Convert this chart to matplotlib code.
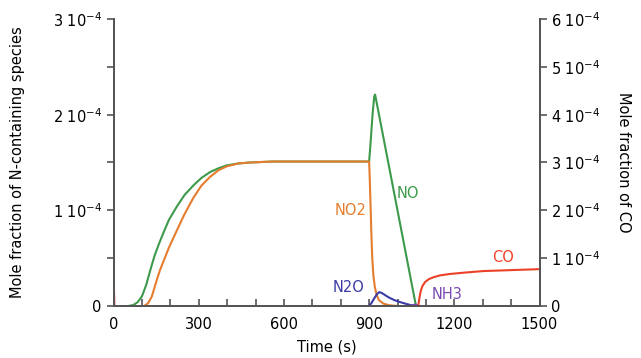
import matplotlib
matplotlib.use("Agg")
import matplotlib.pyplot as plt

# values in units of 1e-4 mole fraction
t_no = [52, 70, 85, 100, 115, 130, 145, 160, 175, 195, 223, 250, 281, 310, 340, 370, 399, 440, 481, 560,
        900, 905, 912, 918, 921, 925, 1065]
no = [0, 0.01, 0.04, 0.10, 0.22, 0.38, 0.53, 0.65, 0.76, 0.90, 1.04, 1.16, 1.26, 1.34, 1.40, 1.44, 1.47, 1.49, 1.50, 1.51,
      1.51, 1.70, 2.00, 2.19, 2.21, 2.15, 0]

t_no2 = [108, 122, 135, 150, 163, 175, 195, 223, 250, 281, 310, 340, 370, 399, 440, 481, 560,
         900, 902, 905, 908, 911, 915, 920, 927, 935, 950, 970, 1000]
no2 = [0, 0.03, 0.10, 0.25, 0.37, 0.46, 0.61, 0.79, 0.96, 1.13, 1.26, 1.35, 1.42, 1.46, 1.49, 1.50, 1.51,
       1.51, 1.35, 1.05, 0.75, 0.50, 0.32, 0.20, 0.11, 0.06, 0.025, 0.008, 0]

t_n2o = [900, 908, 918, 928, 936, 945, 958, 972, 990, 1010, 1030, 1050, 1062]
n2o = [0, 0.03, 0.08, 0.125, 0.145, 0.135, 0.11, 0.085, 0.06, 0.04, 0.022, 0.007, 0]

t_nh3 = [1040, 1055, 1065, 1075]
nh3 = [0, 0.01, 0.015, 0]

t_co_start = [0, 3]
co_start = [0.71, 0]
t_co = [1073, 1075, 1078, 1082, 1088, 1097, 1110, 1126, 1150, 1185, 1240, 1302, 1400, 1500]
co = [0, 0.08, 0.20, 0.32, 0.42, 0.50, 0.56, 0.60, 0.64, 0.67, 0.70, 0.73, 0.75, 0.77]

left_ticks = [0, 1, 2, 3]
left_labels = ["0", "1 10$^{-4}$", "2 10$^{-4}$", "3 10$^{-4}$"]
right_ticks = [0, 1, 2, 3, 4, 5, 6]
right_labels = ["0"] + ["%d 10$^{-4}$" % i for i in range(1, 7)]
x_ticks = [0, 300, 600, 900, 1200, 1500]

green = "#3d9a4b"
orange = "#e57c2e"
blue = "#3c3ca6"
purple = "#7b4bb3"
red = "#ec4128"
gray = "#555555"

fig = plt.figure(figsize=(6.41, 3.58), dpi=100)
ax = fig.add_axes([0.1771, 0.1453, 0.6646, 0.8016])
ax2 = ax.twinx()

lw = 1.5
ax.plot(t_no, no, color=green, lw=lw)
ax.plot(t_no2, no2, color=orange, lw=lw)
ax.plot(t_n2o, n2o, color=blue, lw=lw)
ax.plot(t_nh3, nh3, color=purple, lw=lw)
ax2.plot(t_co_start, co_start, color=red, lw=lw)
ax2.plot(t_co, co, color=red, lw=lw)

ax.set_xlim(0, 1500)
ax.set_ylim(0, 3)
ax2.set_ylim(0, 6)

ax.set_xticks(x_ticks)
ax.set_xticks(range(0, 1501, 100), minor=True)
ax.set_yticks(left_ticks)
ax.set_yticklabels(left_labels)
ax.set_yticks([0.5, 1.5, 2.5], minor=True)
ax2.set_yticks(right_ticks)
ax2.set_yticklabels(right_labels)

fs = 10.5
for a in (ax, ax2):
    for s in a.spines.values():
        s.set_color(gray)
        s.set_linewidth(1.4)
        s.set_zorder(5)
    a.spines["top"].set_visible(False)
ax.tick_params(axis="x", which="both", direction="in", length=5, width=1.2, color=gray, labelsize=fs, pad=8)
ax.tick_params(axis="y", which="both", direction="out", length=5, width=1.2, color=gray, labelsize=fs)
ax2.tick_params(axis="y", which="both", direction="out", length=5, width=1.2, color=gray, labelsize=fs)

ax.set_xlabel("Time (s)", fontsize=fs, labelpad=5)
ax.set_ylabel("Mole fraction of N-containing species", fontsize=fs, labelpad=20)
ax2.set_ylabel("Mole fraction of CO", fontsize=fs, rotation=270, labelpad=22)

ax.text(1037, 1.18, "NO", color=green, fontsize=fs, ha="center", va="center")
ax.text(833, 1.00, "NO2", color=orange, fontsize=fs, ha="center", va="center")
ax.text(829, 0.19, "N2O", color=blue, fontsize=fs, ha="center", va="center")
ax.text(1174, 0.125, "NH3", color=purple, fontsize=fs, ha="center", va="center")
ax.text(1371, 0.51, "CO", color=red, fontsize=fs, ha="center", va="center")

fig.savefig("out.png", dpi=100)
